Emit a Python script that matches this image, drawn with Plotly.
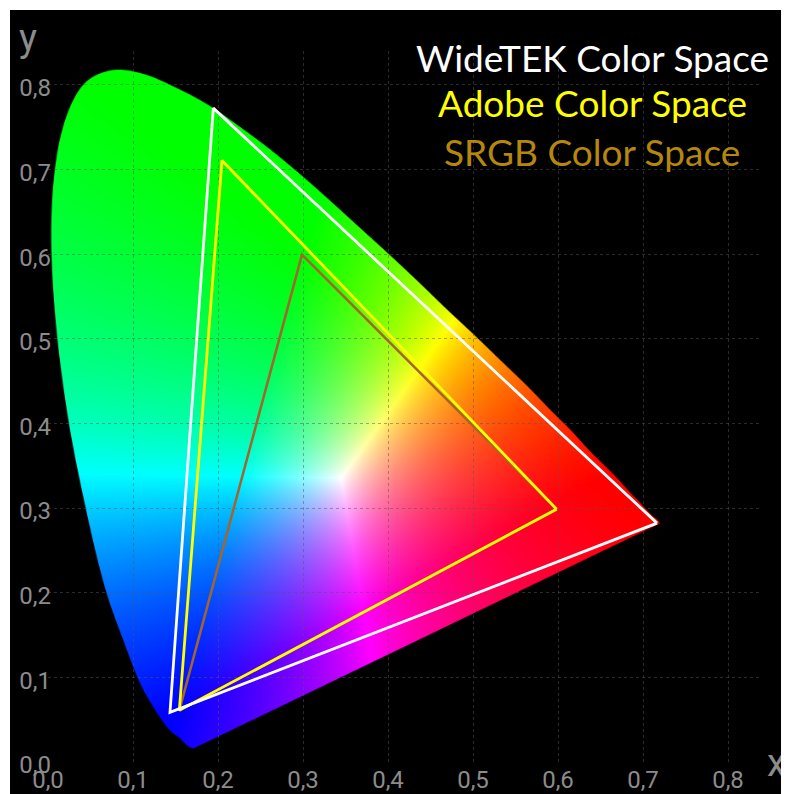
import numpy as np
import zlib, struct, base64
import plotly.graph_objects as go

# ---------------- data (chart units) ----------------
# spectral locus outline of the horseshoe, from 380 nm (blue end) to 700 nm (red end)
locus_x = [0.171, 0.168, 0.166, 0.161, 0.154, 0.141, 0.122, 0.107, 0.090, 0.067, 0.045,
           0.023, 0.008, 0.004, 0.014, 0.038, 0.073, 0.112, 0.152, 0.189, 0.225, 0.261,
           0.296, 0.331, 0.366, 0.401, 0.435, 0.469, 0.502, 0.534, 0.564, 0.591, 0.615,
           0.635, 0.653, 0.667, 0.678, 0.687, 0.694, 0.705, 0.712, 0.716, 0.720]
locus_y = [0.016, 0.017, 0.018, 0.022, 0.029, 0.040, 0.068, 0.096, 0.140, 0.206, 0.297,
           0.410, 0.532, 0.644, 0.736, 0.796, 0.817, 0.813, 0.796, 0.776, 0.751, 0.724,
           0.695, 0.664, 0.632, 0.600, 0.568, 0.535, 0.504, 0.473, 0.444, 0.416, 0.392,
           0.370, 0.352, 0.338, 0.326, 0.316, 0.309, 0.297, 0.290, 0.287, 0.282]

# gamut triangles (R, G, B, back to R)
widetek_x = [0.7165, 0.1945, 0.1435, 0.7165]
widetek_y = [0.2822, 0.7725, 0.0587, 0.2822]
adobe_x = [0.5984, 0.2047, 0.1545, 0.5984]
adobe_y = [0.2987, 0.7107, 0.0610, 0.2987]
srgb_x = [0.5980, 0.2988, 0.1545, 0.5980]
srgb_y = [0.2987, 0.5994, 0.0610, 0.2987]

legend_labels = ["WideTEK Color Space", "Adobe Color Space", "SRGB Color Space"]
tick_vals = [0.0, 0.1, 0.2, 0.3, 0.4, 0.5, 0.6, 0.7, 0.8]


# ---------------- colour field rendering ----------------
def catmull_rom(px, py, n=8):
    P = np.column_stack([px, py]).astype(float)
    P = np.vstack([P[0], P, P[-1]])
    t = np.linspace(0, 1, n, endpoint=False)[:, None]
    out = []
    for i in range(1, len(P) - 2):
        p0, p1, p2, p3 = P[i - 1], P[i], P[i + 1], P[i + 2]
        out.append(0.5 * (2 * p1 + (-p0 + p2) * t + (2 * p0 - 5 * p1 + 4 * p2 - p3) * t ** 2
                          + (-p0 + 3 * p1 - 3 * p2 + p3) * t ** 3))
    out.append(P[-2][None])
    pts = np.vstack(out)
    return pts[:, 0], pts[:, 1]


bx, by = catmull_rom(locus_x, locus_y)

res = 0.001
u_min, u_max, v_min, v_max = 0.0, 0.74, 0.0, 0.83
xs = np.arange(u_min, u_max, res) + res / 2
ys = (np.arange(v_min, v_max, res) + res / 2)[::-1]

x1e, y1e = bx, by
x2e, y2e = np.roll(bx, -1), np.roll(by, -1)
cov = np.zeros((len(ys), len(xs)))
sub = 4
for r, yc in enumerate(ys):
    acc = np.zeros(len(xs))
    for s in range(sub):
        yy = yc + res * ((s + 0.5) / sub - 0.5)
        cond = (y1e > yy) != (y2e > yy)
        if not cond.any():
            continue
        xi = x1e[cond] + (yy - y1e[cond]) * (x2e[cond] - x1e[cond]) / (y2e[cond] - y1e[cond])
        xi.sort()
        for a, b in zip(xi[0::2], xi[1::2]):
            acc += np.clip((np.minimum(b, xs + res / 2) - np.maximum(a, xs - res / 2)) / res, 0, 1)
    cov[r] = acc / sub

M = np.array([[3.2406, -1.5372, -0.4986],
              [-0.9689, 1.8758, 0.0415],
              [0.0557, -0.2040, 1.0570]])


def xy_to_rgb(u, v):
    X = u / v
    Z = (1 - u - v) / v
    return np.stack([M[i, 0] * X + M[i, 1] + M[i, 2] * Z for i in range(3)], axis=-1)


U, V = np.meshgrid(xs, ys)
rgb = xy_to_rgb(U, V)
rgb = rgb / xy_to_rgb(np.array(0.345), np.array(0.335))   # neutral point of the picture
rgb = np.clip(rgb, 0, None)
rgb = rgb / np.maximum(rgb.max(axis=-1, keepdims=True), 1e-9)
img = np.zeros(U.shape + (4,), dtype=np.uint8)
img[..., :3] = np.clip(rgb * 255 + 0.5, 0, 255).astype(np.uint8)
img[..., 3] = np.clip(cov * 255 + 0.5, 0, 255).astype(np.uint8)


def to_png(arr):
    h, w, _ = arr.shape
    raw = b"".join(b"\x00" + arr[r].tobytes() for r in range(h))

    def chunk(t, d):
        return struct.pack(">I", len(d)) + t + d + struct.pack(">I", zlib.crc32(t + d) & 0xffffffff)

    return (b"\x89PNG\r\n\x1a\n" + chunk(b"IHDR", struct.pack(">IIBBBBB", w, h, 8, 6, 0, 0, 0))
            + chunk(b"IDAT", zlib.compress(raw, 9)) + chunk(b"IEND", b""))


src = "data:image/png;base64," + base64.b64encode(to_png(img)).decode()

# ---------------- figure ----------------
fig = go.Figure()
fig.add_trace(go.Scatter(x=srgb_x, y=srgb_y, mode="lines",
                         line=dict(color="#a5642c", width=2.5), hoverinfo="skip"))
fig.add_trace(go.Scatter(x=adobe_x, y=adobe_y, mode="lines",
                         line=dict(color="#ffff00", width=2.8), hoverinfo="skip"))
fig.add_trace(go.Scatter(x=widetek_x, y=widetek_y, mode="lines",
                         line=dict(color="#ffffff", width=2.8), hoverinfo="skip"))

fig.add_layout_image(dict(source=src, xref="x", yref="y",
                          x=u_min, y=v_max, sizex=u_max - u_min, sizey=v_max - v_min,
                          sizing="stretch", layer="below", xanchor="left", yanchor="top"))

OFF = 8                      # page body margin
W, H = 781, 786
L, R, T, B = 40, 27, 43, 32
pw, ph = W - L - R, H - T - B


def pxx(page_x):
    return (page_x - OFF - L) / pw


def pxy(page_y):
    return (OFF + H - B - page_y) / ph


fig.add_shape(type="rect", xref="paper", yref="paper",
              x0=pxx(10), x1=pxx(900), y0=pxy(900), y1=pxy(10),
              fillcolor="black", line=dict(width=0), layer="below")

tickfont = dict(family="Roboto", size=24, color="#8c8c8c")
axis_common = dict(tickvals=tick_vals, tickformat=".1f", showgrid=True,
                   gridcolor="rgba(85,85,85,0.5)", griddash="dot", gridwidth=1,
                   zeroline=False, showline=False, ticks="", tickfont=tickfont,
                   fixedrange=True, automargin=False)
fig.update_xaxes(range=[0, 0.84], ticklabelstandoff=1, **axis_common)
fig.update_yaxes(range=[0, 0.84], ticklabelstandoff=-4, ticklabelshift=3, **axis_common)

legend_colors = ["#ffffff", "#ffff00", "#b5870a"]
legend_py = [57, 103, 152]
for lab, col, py in zip(legend_labels, legend_colors, legend_py):
    fig.add_annotation(text=lab, xref="paper", yref="paper", x=pxx(592), y=pxy(py),
                       xanchor="center", yanchor="middle", showarrow=False,
                       font=dict(family="Lato", size=37, color=col))

fig.add_annotation(text="y", xref="paper", yref="paper", x=pxx(28), y=pxy(38),
                   xanchor="center", yanchor="middle", showarrow=False,
                   font=dict(family="Roboto", size=38, color="#8c8c8c"))
fig.add_annotation(text="x", xref="paper", yref="paper", x=pxx(776), y=pxy(763),
                   xanchor="center", yanchor="middle", showarrow=False,
                   font=dict(family="Roboto", size=38, color="#8c8c8c"))

fig.update_layout(width=W, height=H, margin=dict(l=L, r=R, t=T, b=B, autoexpand=False),
                  paper_bgcolor="white", plot_bgcolor="black",
                  separators=",.", showlegend=False)

fig.write_html("out.html")
